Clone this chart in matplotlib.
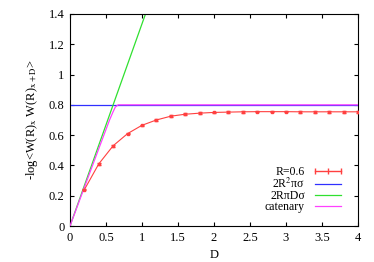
import matplotlib
matplotlib.use('Agg')
import matplotlib.pyplot as plt
from matplotlib.lines import Line2D

plt.rcParams['font.family'] = ['Liberation Serif', 'DejaVu Serif']
plt.rcParams['mathtext.fontset'] = 'stix'

D = [0.2, 0.4, 0.6, 0.8, 1.0, 1.2, 1.4, 1.6, 1.8, 2.0, 2.2, 2.4, 2.6, 2.8, 3.0, 3.2, 3.4, 3.6, 3.8, 4.0]
W = [0.24, 0.41, 0.53, 0.61, 0.665, 0.70, 0.725, 0.738, 0.745, 0.75, 0.752, 0.754, 0.755, 0.755, 0.755, 0.754, 0.754, 0.754, 0.754, 0.754]
W_err = [0.005] * len(D)

plateau_D = [0, 4]
plateau_val = [0.8, 0.8]

lin_D = [0, 1.05]
lin_val = [0, 1.4]

cat_D = [0, 0.2, 0.4, 0.55, 0.6, 0.63, 0.67, 4.0]
cat_val = [0, 0.255, 0.51, 0.70, 0.755, 0.785, 0.8, 0.8]

RED = '#ff4040'
BLUE = '#3030ff'
GREEN = '#30e030'
MAGENTA = '#ff40ff'


def main():
    fig = plt.figure(figsize=(3.74, 2.62), dpi=100)
    ax = fig.add_axes([0.187, 0.137, 0.770, 0.810])

    ax.errorbar(D, W, yerr=W_err, color=RED, lw=0.8, marker='s', ms=1.8,
                capsize=1.5, elinewidth=0.8, zorder=4)
    ax.plot(plateau_D, plateau_val, color=BLUE, lw=0.9)
    ax.plot(lin_D, lin_val, color=GREEN, lw=0.9)
    ax.plot(cat_D, cat_val, color=MAGENTA, lw=0.9, zorder=3)

    ax.set_xlim(0, 4)
    ax.set_ylim(0, 1.4)
    ax.set_xticks([0, 0.5, 1, 1.5, 2, 2.5, 3, 3.5, 4])
    ax.set_xticklabels(['0', '0.5', '1', '1.5', '2', '2.5', '3', '3.5', '4'])
    ax.set_yticks([0, 0.2, 0.4, 0.6, 0.8, 1, 1.2, 1.4])
    ax.set_yticklabels(['0', '0.2', '0.4', '0.6', '0.8', '1', '1.2', '1.4'])
    ax.tick_params(direction='in', top=True, right=True, labelsize=9, length=3, pad=4)
    ax.set_xlabel('D', fontsize=9)
    ax.set_ylabel(r'-log<W(R)$_\mathrm{x}$ W(R)$_\mathrm{x+D}$>', fontsize=9, labelpad=6)

    handles = [
        Line2D([], [], color=RED, lw=1.0, marker='|', ms=4, mew=1.0),
        Line2D([], [], color=BLUE, lw=0.9),
        Line2D([], [], color=GREEN, lw=0.9),
        Line2D([], [], color=MAGENTA, lw=0.9),
    ]
    labels = ['R=0.6', r'2R$^2$πσ', '2RπDσ', 'catenary']
    ax.legend(handles, labels, loc='lower right', frameon=False, fontsize=8.5,
              markerfirst=False, numpoints=3, handlelength=2.8, handletextpad=0.6,
              labelspacing=-0.1, borderaxespad=0.7)

    fig.savefig('out.png', dpi=100)
    plt.close(fig)


if __name__ == '__main__':
    main()
